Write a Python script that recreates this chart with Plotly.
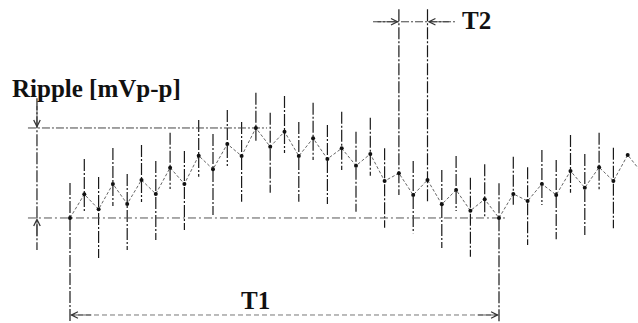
import plotly.graph_objects as go

# ---- data (index of sample, ripple value in arbitrary units; baseline = 0, max = 10) ----
idx = list(range(41))
ripple = [0.0, 2.63, 0.97, 3.78, 1.56, 4.22, 2.67, 5.59, 3.78, 6.92,
          5.41, 8.22, 6.89, 10.0, 7.92, 9.59, 6.89, 8.86, 6.56, 7.74,
          5.81, 7.11, 4.11, 4.97, 2.56, 4.22, 1.52, 3.11, 0.81, 2.08,
          0.0, 2.67, 1.89, 3.78, 2.56, 5.22, 3.37, 5.63, 4.11, 7.0, 5.0]
# vertical lines (top, bottom) per sample
line_top = [3.89, 6.56, 4.56, 7.78, 4.89, 8.11, 6.33, 9.48, 7.44, 10.89,
            9.33, 12.0, 10.67, 13.92, 11.7, 13.56, 10.67, 12.81, 10.33, 11.81,
            9.59, 11.14, 7.74, 23.2, 6.33, 23.2, 5.33, 6.89, 4.48, 5.97,
            3.86, 6.81, 5.63, 7.56, 6.44, 9.22, 7.11, 9.48, 7.81]
line_bot = [-12.5, 0.67, -4.44, 1.33, -3.56, 1.78, -2.44, 3.22, -1.33, 4.59,
            0.33, 5.78, 1.81, 8.48, 2.81, 7.22, 1.81, 6.44, 1.56, 5.33,
            0.7, 4.7, -1.08, 2.56, -1.7, 1.7, -3.33, 0.78, -4.3, 0.0,
            -12.5, 1.26, -3.0, 1.44, -2.37, 2.81, -1.89, 3.19, -1.14]

t1_start, t1_end = 0, 30
t2_start, t2_end = 23, 25
ripple_x = -2.31

ymax = max(ripple)
ymin = min(ripple)

fig = go.Figure()

# vertical lines
vx, vy = [], []
for i, (t, b) in enumerate(zip(line_top, line_bot)):
    vx += [idx[i], idx[i], None]
    vy += [t, b, None]
fig.add_trace(go.Scatter(x=vx, y=vy, mode="lines",
                         line=dict(color="#1a1a1a", width=1.2, dash="12px,2px,2px,2px"),
                         hoverinfo="skip", showlegend=False))

# reference lines (max / baseline)
fig.add_trace(go.Scatter(x=[-2.94, 13.78], y=[ymax, ymax], mode="lines",
                         line=dict(color="#444", width=1, dash="8px,2px,2px,2px"),
                         showlegend=False, hoverinfo="skip"))
fig.add_trace(go.Scatter(x=[-2.94, 30.6], y=[ymin, ymin], mode="lines",
                         line=dict(color="#555", width=1, dash="8px,3px,2px,3px"),
                         showlegend=False, hoverinfo="skip"))

# ripple zigzag
fig.add_trace(go.Scatter(x=idx, y=ripple, mode="lines",
                         line=dict(color="#666", width=1, dash="3px,2px"),
                         showlegend=False, hoverinfo="skip"))
fig.add_trace(go.Scatter(x=idx[:40], y=ripple[:40], mode="markers",
                         marker=dict(color="#111", size=4),
                         showlegend=False, hoverinfo="skip"))

# Ripple dimension line
fig.add_trace(go.Scatter(x=[ripple_x, ripple_x], y=[13.3, -3.56], mode="lines",
                         line=dict(color="#222", width=1.2, dash="12px,2px,2px,2px"),
                         showlegend=False, hoverinfo="skip"))

# T1 dimension line
t1_y = -10.78
fig.add_trace(go.Scatter(x=[t1_start, t1_end], y=[t1_y, t1_y], mode="lines",
                         line=dict(color="#777", width=1, dash="5px,3px"),
                         showlegend=False, hoverinfo="skip"))
# T2 dimension line
t2_y = 21.8
fig.add_trace(go.Scatter(x=[21.19, 26.92], y=[t2_y, t2_y], mode="lines",
                         line=dict(color="#444", width=1, dash="8px,2px,2px,2px"),
                         showlegend=False, hoverinfo="skip"))

def arrow(x, y, ax, ay):
    fig.add_annotation(x=x, y=y, ax=ax, ay=ay, xref="x", yref="y",
                       axref="x", ayref="y", showarrow=True, text="",
                       arrowhead=5, arrowsize=1.6, arrowwidth=0.8,
                       arrowcolor="#333")

arrow(ripple_x, ymax, ripple_x, ymax + 2.6)
arrow(ripple_x, ymin, ripple_x, ymin - 2.2)
arrow(t1_start, t1_y, t1_start + 1.6, t1_y)
arrow(t1_end, t1_y, t1_end - 1.6, t1_y)
arrow(t2_start, t2_y, t2_start - 1.6, t2_y)
arrow(t2_end, t2_y, t2_end + 1.6, t2_y)

font = dict(family="Liberation Serif", size=25, color="#111")
fig.add_annotation(x=-4.2, y=14.4, xref="x", yref="y", text="<b>Ripple [mVp-p]</b>",
                   showarrow=False, xanchor="left", yanchor="middle", font=font)
fig.add_annotation(x=28.4, y=21.9, xref="x", yref="y", text="<b>T2</b>",
                   showarrow=False, xanchor="center", yanchor="middle", font=font)
fig.add_annotation(x=13.0, y=-9.2, xref="x", yref="y", text="<b>T1</b>",
                   showarrow=False, xanchor="center", yanchor="middle", font=font)

fig.update_layout(
    width=638, height=323,
    margin=dict(l=0, r=0, t=0, b=0),
    paper_bgcolor="white", plot_bgcolor="white",
    xaxis=dict(range=[-4.895, 39.72], visible=False, fixedrange=True),
    yaxis=dict(range=[-11.67, 24.22], visible=False, fixedrange=True),
    showlegend=False,
)

fig.write_html("out.html")
